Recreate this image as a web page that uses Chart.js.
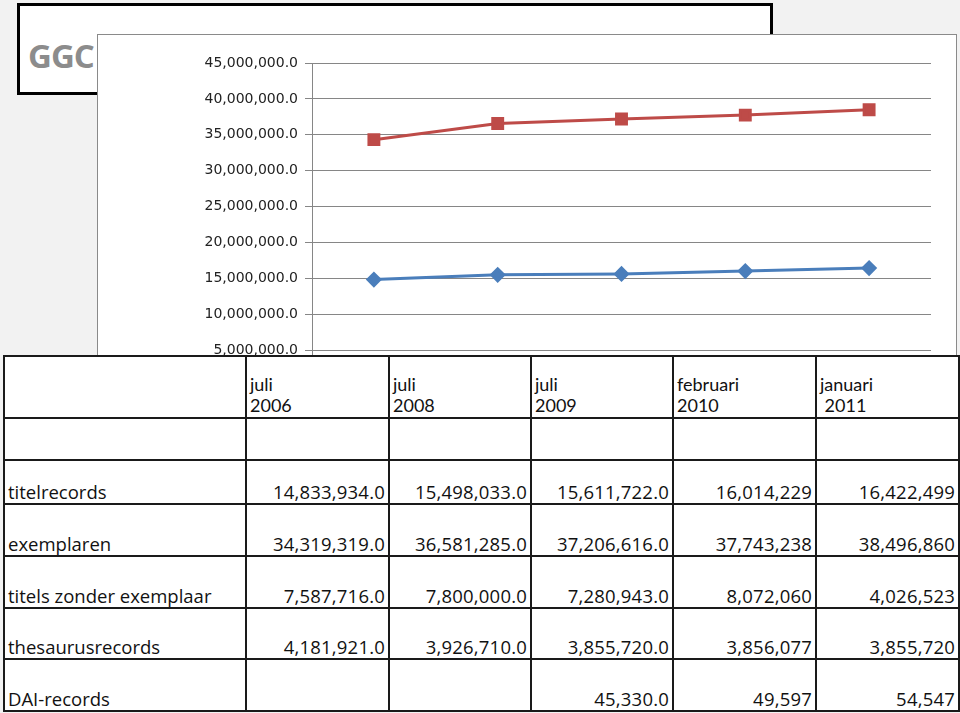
<!DOCTYPE html>
<html>
<head>
<meta charset="utf-8">
<script src="https://cdn.jsdelivr.net/npm/chart.js@4/dist/chart.umd.min.js"></script>
<style>
  html, body { margin: 0; padding: 0; }
  body { width: 960px; height: 713px; background: #f2f2f2; position: relative; overflow: hidden; }
  #titleBox { position: absolute; left: 17px; top: 3px; width: 750px; height: 86px; border: 3px solid #000; background: #fff; }
  #titleBox span { position: absolute; left: 8px; top: 27px; font: bold 33px "Open Sans", sans-serif; color: #8c8c8c; letter-spacing: -1px; }
  #chartBox { position: absolute; left: 97px; top: 34px; width: 858px; height: 420px; border: 1px solid #8a8a8a; background: #fff; }
  #dataTable { position: absolute; left: 3px; top: 355px; border-collapse: collapse; background: #fff; table-layout: fixed; }
  #dataTable td { border: 2px solid #1a1a1a; padding: 0 3px 0 3px; vertical-align: bottom; font: 18.5px "Open Sans", sans-serif; line-height: 22px; color: #111; white-space: nowrap; overflow: hidden; }
  #dataTable td.num { text-align: right; letter-spacing: 0.2px; }
  #dataTable tr.head td { font: 18px Lato, sans-serif; line-height: 21px; padding-bottom: 1px; }
</style>
</head>
<body>
<div id="titleBox"><span>GGC</span></div>
<div id="chartBox"><canvas id="chart" width="858" height="420"></canvas></div>
<table id="dataTable"></table>
<script>
const periods = ['juli\n2006', 'juli\n2008', 'juli\n2009', 'februari\n2010', 'januari\n 2011'];
const titelrecords = [14833934, 15498033, 15611722, 16014229, 16422499];
const exemplaren = [34319319, 36581285, 37206616, 37743238, 38496860];
const titelsZonderExemplaar = [7587716, 7800000, 7280943, 8072060, 4026523];
const thesaurusrecords = [4181921, 3926710, 3855720, 3856077, 3855720];
const daiRecords = [null, null, 45330, 49597, 54547];
const decimals = [1, 1, 1, 0, 0];
const yTicks = [0, 5000000, 10000000, 15000000, 20000000, 25000000, 30000000, 35000000, 40000000, 45000000];

// table
const rows = [
  ['titelrecords', titelrecords],
  ['exemplaren', exemplaren],
  ['titels zonder exemplaar', titelsZonderExemplaar],
  ['thesaurusrecords', thesaurusrecords],
  ['DAI-records', daiRecords]
];
const colWidths = [242, 143, 142, 142, 143, 143];
const rowHeights = [62, 42, 44, 52, 52, 51, 52];
const fmt = (v, d) => v == null ? '' : v.toLocaleString('en-US', { minimumFractionDigits: d, maximumFractionDigits: d });

const table = document.getElementById('dataTable');
const colgroup = document.createElement('colgroup');
colWidths.forEach(w => { const c = document.createElement('col'); c.style.width = w + 'px'; colgroup.appendChild(c); });
table.appendChild(colgroup);

let html = '<tr class="head" style="height:' + rowHeights[0] + 'px"><td></td>' +
  periods.map(p => '<td style="white-space:pre">' + p + '</td>').join('') + '</tr>';
html += '<tr style="height:' + rowHeights[1] + 'px"><td></td>' + periods.map(() => '<td></td>').join('') + '</tr>';
rows.forEach((r, i) => {
  html += '<tr style="height:' + rowHeights[i + 2] + 'px"><td>' + r[0] + '</td>' +
    r[1].map((v, j) => '<td class="num">' + fmt(v, decimals[j]) + '</td>').join('') + '</tr>';
});
table.insertAdjacentHTML('beforeend', html);

// chart
const gridColor = '#868686';
Chart.defaults.font.family = 'DejaVu Sans';
Chart.defaults.font.size = 13;
new Chart(document.getElementById('chart'), {
  type: 'line',
  data: {
    labels: periods.map(p => p.split('\n').map(s => s.trim()).join(' ')),
    datasets: [
      {
        label: 'titelrecords', data: titelrecords,
        borderColor: '#4a7ebb', backgroundColor: '#4a7ebb', borderWidth: 3,
        pointStyle: 'rectRot', pointRadius: 6, tension: 0
      },
      {
        label: 'exemplaren', data: exemplaren,
        borderColor: '#be4b48', backgroundColor: '#be4b48', borderWidth: 3,
        pointStyle: 'rect', pointRadius: 7, tension: 0
      }
    ]
  },
  options: {
    responsive: false,
    animation: false,
    layout: { padding: { top: 28, right: 25, bottom: 0, left: 0 } },
    plugins: { legend: { display: false }, tooltip: { enabled: false } },
    scales: {
      x: {
        offset: true,
        grid: { display: false },
        border: { color: gridColor },
        ticks: { color: '#222' },
        afterFit: s => { s.height = 69; }
      },
      y: {
        min: 0, max: 45000000,
        afterBuildTicks: s => { s.ticks = yTicks.map(v => ({ value: v })); },
        afterFit: s => { s.width = 214; },
        grid: { color: gridColor, lineWidth: 1, tickLength: 7 },
        border: { color: gridColor },
        ticks: {
          padding: 7, color: '#222',
          font: { family: 'DejaVu Sans', size: 14 },
          callback: v => fmt(v, 1)
        }
      }
    }
  }
});
</script>
</body>
</html>
